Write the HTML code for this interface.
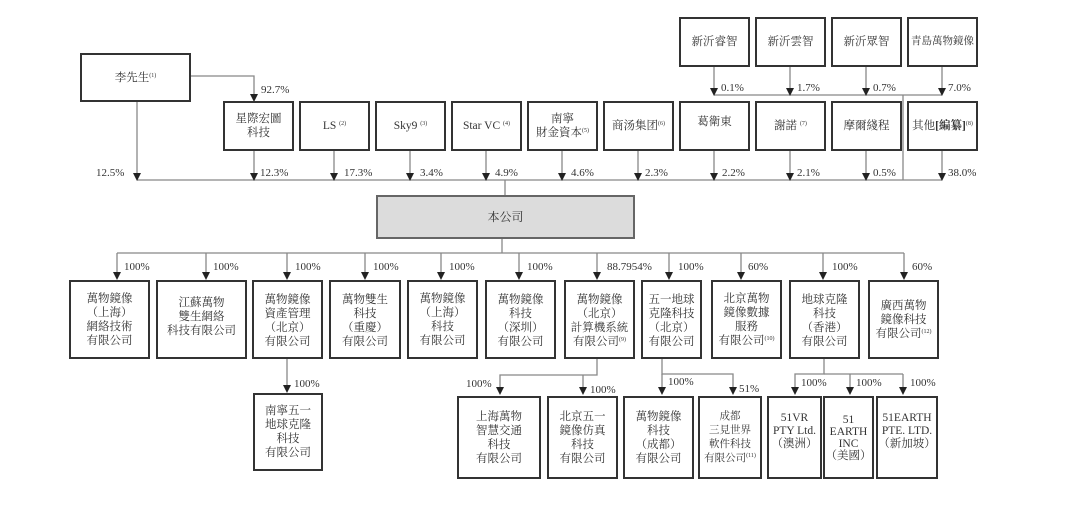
<!DOCTYPE html>
<html><head><meta charset="utf-8"><style>
body{margin:0;width:1080px;height:506px;background:#fff;position:relative;overflow:hidden;font-family:"Liberation Serif","Noto Serif CJK SC",serif;color:#333}
.b{position:absolute;box-sizing:border-box;border:2.5px solid #333;background:#fff;display:flex;align-items:center;justify-content:center;text-align:center;font-size:11.5px;line-height:14px;white-space:nowrap}
.t{position:absolute;font-size:11px;line-height:12px;color:#333;white-space:nowrap}
sup{font-size:6px;vertical-align:4px;line-height:0}
svg{position:absolute;left:0;top:0}
</style></head><body>
<svg width="1080" height="506">
<g stroke="#888" stroke-width="1.3" fill="none">
<polyline points="190,76 254,76 254,94"/>
<line x1="137" y1="101" x2="137" y2="174"/>
<line x1="254" y1="150" x2="254" y2="174"/>
<line x1="334" y1="150" x2="334" y2="174"/>
<line x1="410" y1="150" x2="410" y2="174"/>
<line x1="486" y1="150" x2="486" y2="174"/>
<line x1="562" y1="150" x2="562" y2="174"/>
<line x1="638" y1="150" x2="638" y2="174"/>
<line x1="714" y1="150" x2="714" y2="174"/>
<line x1="790" y1="150" x2="790" y2="174"/>
<line x1="866" y1="150" x2="866" y2="174"/>
<line x1="942" y1="150" x2="942" y2="174"/>
<line x1="714" y1="66" x2="714" y2="89"/>
<line x1="790" y1="66" x2="790" y2="89"/>
<line x1="866" y1="66" x2="866" y2="89"/>
<line x1="942" y1="66" x2="942" y2="89"/>
<line x1="714" y1="95" x2="942" y2="95"/>
<line x1="903" y1="95" x2="903" y2="180"/>
<line x1="137" y1="180" x2="942" y2="180"/>
<line x1="505" y1="180" x2="505" y2="195"/>
<line x1="502" y1="239" x2="502" y2="253"/>
<line x1="117" y1="253" x2="904" y2="253"/>
<line x1="117" y1="253" x2="117" y2="272"/><line x1="206" y1="253" x2="206" y2="272"/><line x1="287" y1="253" x2="287" y2="272"/><line x1="365" y1="253" x2="365" y2="272"/><line x1="441" y1="253" x2="441" y2="272"/><line x1="519" y1="253" x2="519" y2="272"/><line x1="597" y1="253" x2="597" y2="272"/><line x1="669" y1="253" x2="669" y2="272"/><line x1="741" y1="253" x2="741" y2="272"/><line x1="823" y1="253" x2="823" y2="272"/><line x1="904" y1="253" x2="904" y2="272"/>
<line x1="287" y1="358" x2="287" y2="386"/>
<polyline points="597,358 597,375 500,375 500,388"/><line x1="583" y1="375" x2="583" y2="388"/>
<polyline points="662,358 662,374 733,374 733,388"/><line x1="662" y1="374" x2="662" y2="388"/>
<polyline points="824,358 824,374 795,374 795,388"/><line x1="824" y1="374" x2="903" y2="374"/><line x1="850" y1="374" x2="850" y2="388"/><line x1="903" y1="374" x2="903" y2="388"/>
</g>
<g fill="#222">
<path d="M250,94h8l-4,8z"/>
<path d="M133,173h8l-4,8z"/><path d="M250,173h8l-4,8z"/><path d="M330,173h8l-4,8z"/><path d="M406,173h8l-4,8z"/><path d="M482,173h8l-4,8z"/><path d="M558,173h8l-4,8z"/><path d="M634,173h8l-4,8z"/><path d="M710,173h8l-4,8z"/><path d="M786,173h8l-4,8z"/><path d="M862,173h8l-4,8z"/><path d="M938,173h8l-4,8z"/>
<path d="M710,88h8l-4,8z"/><path d="M786,88h8l-4,8z"/><path d="M862,88h8l-4,8z"/><path d="M938,88h8l-4,8z"/>
<path d="M113,272h8l-4,8z"/><path d="M202,272h8l-4,8z"/><path d="M283,272h8l-4,8z"/><path d="M361,272h8l-4,8z"/><path d="M437,272h8l-4,8z"/><path d="M515,272h8l-4,8z"/><path d="M593,272h8l-4,8z"/><path d="M665,272h8l-4,8z"/><path d="M737,272h8l-4,8z"/><path d="M819,272h8l-4,8z"/><path d="M900,272h8l-4,8z"/>
<path d="M283,385h8l-4,8z"/>
<path d="M496,387h8l-4,8z"/><path d="M579,387h8l-4,8z"/><path d="M658,387h8l-4,8z"/><path d="M729,387h8l-4,8z"/><path d="M791,387h8l-4,8z"/><path d="M846,387h8l-4,8z"/><path d="M899,387h8l-4,8z"/>
</g>
</svg>

<div class="b" style="left:80px;top:53px;width:111px;height:49px"><span>李先生<sup>(1)</sup></span></div>
<div class="b" style="left:223px;top:101px;width:71px;height:50px"><span>星際宏圖<br>科技</span></div>
<div class="b" style="left:299px;top:101px;width:71px;height:50px"><span>LS <sup>(2)</sup></span></div>
<div class="b" style="left:375px;top:101px;width:71px;height:50px"><span>Sky9 <sup>(3)</sup></span></div>
<div class="b" style="left:451px;top:101px;width:71px;height:50px"><span>Star VC <sup>(4)</sup></span></div>
<div class="b" style="left:527px;top:101px;width:71px;height:50px"><span>南寧<br>財金資本<sup>(5)</sup></span></div>
<div class="b" style="left:603px;top:101px;width:71px;height:50px"><span>商汤集团<sup>(6)</sup></span></div>
<div class="b" style="left:679px;top:101px;width:71px;height:50px;align-items:flex-start;padding-top:12px"><span>葛衛東</span></div>
<div class="b" style="left:755px;top:101px;width:71px;height:50px"><span>謝諾 <sup>(7)</sup></span></div>
<div class="b" style="left:831px;top:101px;width:71px;height:50px"><span>摩爾綫程</span></div>
<div class="b" style="left:907px;top:101px;width:71px;height:50px"><span>其他<b>[編纂]</b><sup>(8)</sup></span></div>
<div class="b" style="left:679px;top:17px;width:71px;height:50px"><span>新沂睿智</span></div>
<div class="b" style="left:755px;top:17px;width:71px;height:50px"><span>新沂雲智</span></div>
<div class="b" style="left:831px;top:17px;width:71px;height:50px"><span>新沂眾智</span></div>
<div class="b" style="left:907px;top:17px;width:71px;height:50px;font-size:10.5px"><span>青島萬物鏡像</span></div>

<div class="t" style="left:261px;top:84px">92.7%</div>
<div class="t" style="left:96px;top:167px">12.5%</div>
<div class="t" style="left:260px;top:167px">12.3%</div>
<div class="t" style="left:344px;top:167px">17.3%</div>
<div class="t" style="left:420px;top:167px">3.4%</div>
<div class="t" style="left:495px;top:167px">4.9%</div>
<div class="t" style="left:571px;top:167px">4.6%</div>
<div class="t" style="left:645px;top:167px">2.3%</div>
<div class="t" style="left:722px;top:167px">2.2%</div>
<div class="t" style="left:797px;top:167px">2.1%</div>
<div class="t" style="left:873px;top:167px">0.5%</div>
<div class="t" style="left:948px;top:167px">38.0%</div>
<div class="t" style="left:721px;top:82px">0.1%</div>
<div class="t" style="left:797px;top:82px">1.7%</div>
<div class="t" style="left:873px;top:82px">0.7%</div>
<div class="t" style="left:948px;top:82px">7.0%</div>

<div class="b" style="left:376px;top:195px;width:259px;height:44px;background:#dcdcdc;border:2px solid #666;font-size:12px"><span>本公司</span></div>

<div class="t" style="left:124px;top:261px">100%</div>
<div class="t" style="left:213px;top:261px">100%</div>
<div class="t" style="left:295px;top:261px">100%</div>
<div class="t" style="left:373px;top:261px">100%</div>
<div class="t" style="left:449px;top:261px">100%</div>
<div class="t" style="left:527px;top:261px">100%</div>
<div class="t" style="left:607px;top:261px">88.7954%</div>
<div class="t" style="left:678px;top:261px">100%</div>
<div class="t" style="left:748px;top:261px">60%</div>
<div class="t" style="left:832px;top:261px">100%</div>
<div class="t" style="left:912px;top:261px">60%</div>

<div class="b" style="left:69px;top:280px;width:81px;height:79px"><span>萬物鏡像<br>（上海）<br>網絡技術<br>有限公司</span></div>
<div class="b" style="left:156px;top:280px;width:91px;height:79px;align-items:flex-start;padding-top:14px"><span>江蘇萬物<br>雙生網絡<br>科技有限公司</span></div>
<div class="b" style="left:252px;top:280px;width:71px;height:79px;align-items:flex-start;padding-top:11px"><span>萬物鏡像<br>資產管理<br>（北京）<br>有限公司</span></div>
<div class="b" style="left:329px;top:280px;width:72px;height:79px;align-items:flex-start;padding-top:11px"><span>萬物雙生<br>科技<br>（重慶）<br>有限公司</span></div>
<div class="b" style="left:407px;top:280px;width:71px;height:79px"><span>萬物鏡像<br>（上海）<br>科技<br>有限公司</span></div>
<div class="b" style="left:485px;top:280px;width:71px;height:79px;align-items:flex-start;padding-top:11px"><span>萬物鏡像<br>科技<br>（深圳）<br>有限公司</span></div>
<div class="b" style="left:564px;top:280px;width:71px;height:79px;align-items:flex-start;padding-top:11px"><span>萬物鏡像<br>（北京）<br>計算機系統<br>有限公司<sup>(9)</sup></span></div>
<div class="b" style="left:641px;top:280px;width:61px;height:79px;align-items:flex-start;padding-top:11px"><span>五一地球<br>克隆科技<br>（北京）<br>有限公司</span></div>
<div class="b" style="left:711px;top:280px;width:71px;height:79px"><span>北京萬物<br>鏡像數據<br>服務<br>有限公司<sup>(10)</sup></span></div>
<div class="b" style="left:789px;top:280px;width:71px;height:79px;align-items:flex-start;padding-top:11px"><span>地球克隆<br>科技<br>（香港）<br>有限公司</span></div>
<div class="b" style="left:868px;top:280px;width:71px;height:79px"><span>廣西萬物<br>鏡像科技<br>有限公司<sup>(12)</sup></span></div>

<div class="t" style="left:294px;top:378px">100%</div>
<div class="t" style="left:466px;top:378px">100%</div>
<div class="t" style="left:590px;top:384px">100%</div>
<div class="t" style="left:668px;top:376px">100%</div>
<div class="t" style="left:739px;top:383px">51%</div>
<div class="t" style="left:801px;top:377px">100%</div>
<div class="t" style="left:856px;top:377px">100%</div>
<div class="t" style="left:910px;top:377px">100%</div>

<div class="b" style="left:253px;top:393px;width:70px;height:78px"><span>南寧五一<br>地球克隆<br>科技<br>有限公司</span></div>
<div class="b" style="left:457px;top:396px;width:84px;height:83px"><span>上海萬物<br>智慧交通<br>科技<br>有限公司</span></div>
<div class="b" style="left:547px;top:396px;width:71px;height:83px"><span>北京五一<br>鏡像仿真<br>科技<br>有限公司</span></div>
<div class="b" style="left:623px;top:396px;width:71px;height:83px"><span>萬物鏡像<br>科技<br>（成都）<br>有限公司</span></div>
<div class="b" style="left:698px;top:396px;width:64px;height:83px;font-size:10.5px"><span>成都<br>三見世界<br>軟件科技<br>有限公司<sup>(11)</sup></span></div>
<div class="b" style="left:767px;top:396px;width:55px;height:83px;align-items:flex-start;padding-top:14px;line-height:13px"><span>51VR<br>PTY Ltd.<br>（澳洲）</span></div>
<div class="b" style="left:823px;top:396px;width:51px;height:83px;line-height:12px"><span>51<br>EARTH<br>INC<br>（美國）</span></div>
<div class="b" style="left:876px;top:396px;width:62px;height:83px;align-items:flex-start;padding-top:14px;line-height:13px"><span>51EARTH<br>PTE. LTD.<br>（新加坡）</span></div>
</body></html>
